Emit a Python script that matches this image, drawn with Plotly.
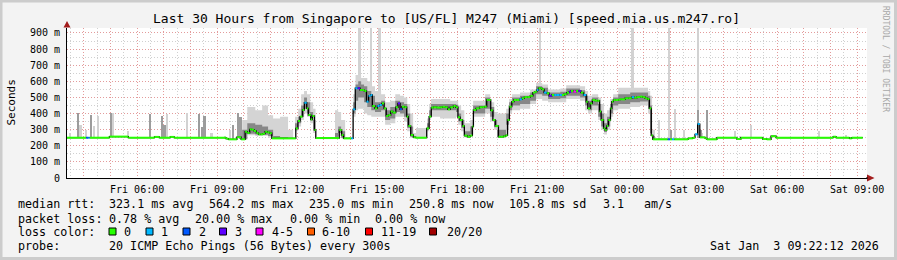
import pandas as pd
import plotly.graph_objects as go

# ---------------- data (hours since Fri 2026-01-02 00:00, values in ms) ----------------
median_h = [
    3.37, 4.09, 4.17, 4.22, 4.96, 5.67, 6.65, 6.83, 7.24, 7.39,
    9.33, 9.42, 9.74, 9.90, 10.05, 10.13, 10.22, 10.30, 10.38, 10.47,
    10.55, 10.63, 10.72, 10.80, 10.88, 10.97, 11.05, 11.95, 12.03, 12.11,
    12.20, 12.27, 12.36, 12.42, 12.51, 12.57, 12.65, 12.70, 13.58, 13.67,
    13.74, 14.03, 14.10, 14.18, 14.27, 14.36, 14.44, 14.52, 14.60, 14.68,
    14.76, 14.82, 14.92, 15.01, 15.09, 15.18, 15.26, 15.34, 15.42, 15.51,
    15.59, 15.70, 15.78, 15.86, 15.93, 16.02, 16.11, 16.17, 16.26, 16.36,
    16.45, 16.86, 16.95, 17.03, 17.11, 17.24, 17.36, 17.45, 17.55, 17.65,
    17.74, 17.86, 17.95, 18.03, 18.11, 18.20, 18.27, 18.39, 18.49, 18.57,
    18.61, 18.71, 18.84, 18.94, 19.02, 19.11, 19.19, 19.26, 19.34, 19.43,
    19.55, 19.64, 19.74, 19.82, 19.89, 19.96, 20.05, 20.13, 20.24, 20.34,
    20.43, 20.52, 20.64, 20.74, 20.84, 20.92, 20.99, 21.05, 21.13, 21.18,
    21.26, 21.36, 21.45, 21.55, 21.64, 21.74, 21.84, 21.93, 22.01, 22.11,
    22.20, 22.27, 22.36, 22.46, 22.55, 22.64, 22.74, 22.84, 22.90, 22.99,
    23.07, 23.17, 23.27, 23.34, 23.40, 23.49, 23.55, 23.61, 23.67, 23.75,
    23.80, 23.86, 23.95, 24.04, 24.11, 24.18, 24.30, 24.42, 24.55, 24.64,
    24.74, 24.86, 24.96, 25.05, 25.14, 25.21, 25.28, 25.34, 25.90, 25.98,
    26.06, 26.14, 26.66, 26.84, 26.92, 27.02, 27.10, 27.30, 27.37, 27.74,
    28.49, 28.64, 29.46, 29.61, 29.77, 29.96, 32.10, 32.21, 32.71, 32.80,
]
median_ms = [
    250, 250, 250, 250, 257, 250, 255, 250, 255, 250,
    245, 240, 253, 240, 287, 280, 302, 300, 292, 280,
    271, 271, 275, 287, 283, 278, 246, 308, 354, 381,
    422, 467, 432, 391, 364, 385, 298, 248, 298, 267,
    246, 246, 426, 557, 557, 546, 546, 540, 474, 510,
    515, 447, 432, 447, 453, 463, 432, 385, 391, 413,
    406, 439, 463, 426, 443, 439, 381, 323, 267, 252,
    250, 308, 381, 437, 439, 437, 439, 442, 439, 426,
    439, 447, 439, 377, 360, 323, 263, 256, 263, 319,
    422, 432, 439, 440, 443, 484, 484, 420, 360, 323,
    256, 256, 259, 264, 360, 443, 474, 484, 484, 488,
    495, 502, 502, 510, 530, 536, 546, 557, 557, 550,
    530, 526, 510, 515, 515, 515, 515, 515, 520, 530,
    536, 540, 536, 540, 540, 530, 515, 474, 432, 463,
    484, 480, 480, 413, 360, 308, 298, 323, 360, 432,
    474, 484, 484, 486, 488, 488, 495, 495, 502, 498,
    502, 505, 502, 495, 490, 432, 264, 240, 240, 240,
    240, 240, 246, 250, 271, 335, 252, 246, 240, 250,
    242, 250, 242, 240, 259, 250, 256, 250, 246, 250,
]
median_loss = [
    0, 2, 1, 0, 0, 0, 0, 0, 0, 0,
    0, 0, 0, 0, 0, 0, 0, 0, 0, 0,
    0, 0, 0, 0, 0, 0, 0, 0, 0, 0,
    0, 1, 0, 0, 0, 0, 0, 0, 0, 0,
    0, 1, 1, 1, 3, 0, 0, 0, 1, 1,
    1, 0, 0, 1, 1, 0, 0, 0, 0, 0,
    0, 0, 3, 2, 0, 0, 0, 0, 0, 0,
    0, 0, 0, 0, 0, 0, 0, 0, 0, 0,
    0, 0, 0, 0, 0, 0, 0, 0, 0, 0,
    0, 0, 0, 0, 0, 0, 0, 0, 0, 0,
    0, 0, 0, 0, 0, 0, 0, 0, 0, 1,
    0, 0, 0, 0, 0, 0, 1, 0, 0, 0,
    1, 0, 3, 0, 1, 1, 1, 0, 0, 0,
    3, 0, 4, 0, 3, 0, 1, 0, 0, 0,
    0, 0, 0, 0, 0, 0, 0, 0, 0, 0,
    0, 0, 0, 0, 0, 0, 0, 0, 1, 0,
    0, 0, 0, 0, 0, 0, 0, 0, 2, 0,
    1, 0, 0, 0, 1, 1, 0, 0, 0, 0,
    0, 0, 0, 0, 0, 0, 0, 0, 0, 0,
]
median_end_h = 33.21

smoke_h = [
    3.37, 9.94, 10.13, 10.43, 10.69, 10.91, 11.10, 11.36, 11.66, 11.85,
    11.92, 12.04, 12.15, 12.26, 12.37, 12.49, 12.60, 12.69, 13.42, 13.54,
    13.65, 13.80, 14.10, 14.19, 14.29, 14.40, 14.51, 14.63, 14.78, 14.92,
    15.15, 15.30, 15.49, 15.68, 15.86, 16.01, 16.13, 16.24, 16.35, 16.46,
    16.87, 16.95, 17.02, 17.36, 17.74, 17.96, 18.04, 18.15, 18.27, 18.49,
    18.60, 19.05, 19.24, 19.39, 19.50, 19.84, 19.95, 20.06, 20.36, 20.74,
    20.96, 21.19, 21.41, 21.87, 22.09, 22.61, 22.80, 22.91, 23.06, 23.29,
    23.40, 23.51, 23.62, 23.74, 23.85, 24.04, 24.49, 24.86, 25.16, 25.24,
    25.31, 25.42,
]
smoke_min = [
    250, 240, 265, 260, 262, 250, 245, 245, 245, 246,
    290, 320, 360, 400, 380, 340, 280, 248, 248, 260,
    246, 246, 380, 420, 430, 430, 400, 390, 380, 380,
    380, 330, 340, 380, 380, 350, 290, 250, 250, 250,
    290, 360, 380, 370, 370, 380, 330, 290, 252, 260,
    380, 400, 350, 300, 250, 300, 400, 420, 430, 460,
    490, 480, 470, 470, 490, 480, 420, 400, 420, 360,
    300, 270, 300, 380, 420, 430, 440, 450, 400, 260,
    240, 240,
]
smoke_lo = [
    250, 240, 275, 270, 268, 260, 246, 246, 246, 246,
    300, 340, 380, 430, 400, 355, 295, 248, 248, 280,
    250, 246, 400, 480, 500, 500, 470, 440, 420, 410,
    420, 360, 370, 410, 400, 380, 310, 256, 250, 250,
    300, 380, 420, 420, 420, 410, 350, 310, 256, 270,
    400, 430, 380, 315, 254, 330, 420, 450, 460, 480,
    520, 510, 490, 495, 510, 500, 450, 420, 450, 380,
    320, 285, 320, 400, 450, 460, 470, 475, 430, 280,
    240, 240,
]
smoke_hi = [
    250, 300, 340, 330, 320, 300, 260, 255, 250, 246,
    340, 380, 450, 500, 470, 410, 360, 248, 280, 320,
    290, 246, 470, 580, 600, 580, 570, 540, 510, 470,
    480, 420, 440, 480, 470, 460, 400, 320, 260, 255,
    340, 420, 460, 460, 460, 455, 400, 360, 290, 320,
    450, 500, 440, 360, 300, 400, 470, 500, 510, 530,
    570, 560, 530, 535, 555, 545, 510, 480, 500, 460,
    400, 340, 380, 460, 500, 520, 530, 530, 510, 450,
    260, 240,
]
smoke_max = [
    250, 360, 440, 420, 450, 390, 370, 380, 300, 246,
    380, 430, 520, 540, 520, 470, 430, 248, 420, 410,
    360, 246, 520, 640, 640, 620, 620, 600, 570, 540,
    520, 470, 480, 520, 510, 500, 460, 400, 280, 310,
    370, 460, 490, 490, 480, 480, 450, 420, 340, 360,
    480, 520, 470, 410, 400, 430, 490, 520, 530, 550,
    590, 580, 550, 555, 575, 570, 540, 510, 520, 500,
    460, 400, 420, 490, 520, 560, 560, 560, 540, 510,
    300, 240,
]

light_spike_h = [3.49, 3.88, 4.07, 4.37, 4.54, 5.10, 5.66, 7.12, 7.87, 8.79,
                 9.30, 9.49, 14.34, 14.77, 15.09, 21.11, 24.58, 25.58, 25.95, 26.17,
                 26.51, 27.02, 27.19, 28.43, 28.61, 29.03, 31.58, 32.59]
light_spike_lo = [250, 250, 250, 250, 250, 257, 250, 250, 250, 250,
                  245, 240, 500, 500, 450, 540, 500, 240, 240, 240,
                  240, 335, 250, 250, 250, 250, 250, 250]
light_spike_hi = [277, 330, 298, 320, 387, 401, 291, 395, 401, 277,
                  260, 300, 935, 935, 935, 935, 935, 360, 935, 428,
                  295, 935, 280, 290, 260, 330, 290, 265]

dark_spike_h = [3.79, 4.27, 5.01, 6.47, 6.94, 7.03, 8.32, 8.42, 8.53, 9.60,
                9.79, 9.88, 26.02, 27.02, 27.15, 27.37]
dark_spike_lo = [250, 250, 257, 250, 250, 250, 250, 250, 250, 245,
                 253, 240, 240, 250, 252, 240]
dark_spike_hi = [401, 392, 401, 395, 387, 330, 395, 318, 387, 330,
                 401, 380, 300, 422, 300, 422]

y_tick_vals = [0, 100, 200, 300, 400, 500, 600, 700, 800, 900]
y_tick_text = ["0", "100 m", "200 m", "300 m", "400 m", "500 m", "600 m", "700 m", "800 m", "900 m"]
x_label_hours = [6, 9, 12, 15, 18, 21, 24, 27, 30, 33]
x_label_text = ["Fri 06:00", "Fri 09:00", "Fri 12:00", "Fri 15:00", "Fri 18:00",
                "Fri 21:00", "Sat 00:00", "Sat 03:00", "Sat 06:00", "Sat 09:00"]

title_text = "Last 30 Hours from Singapore to [US/FL] M247 (Miami) [speed.mia.us.m247.ro]"
rtt_items = ["median rtt:", "323.1 ms avg", "564.2 ms max", "235.0 ms min",
             "250.8 ms now", "105.8 ms sd", "3.1", "am/s"]
loss_items = ["packet loss:", "0.78 % avg", "20.00 % max", "0.00 % min", "0.00 % now"]
loss_labels = ["0", "1", "2", "3", "4-5", "6-10", "11-19", "20/20"]
loss_colors = ["#26ff00", "#00b8ff", "#0059ff", "#5e00ff", "#ff00fe", "#ff5e00", "#ff0000", "#a10000"]
probe_items = ["probe:", "20 ICMP Echo Pings (56 Bytes) every 300s"]
stamp_text = "Sat Jan\u00a0\u00a03 09:22:12 2026"
start_h, end_h = 3.37, 33.37

# ---------------- geometry ----------------
W, H = 897, 260
L, R, T, B = 67, 30, 28, 82
PW, PH = W - L - R, H - T - B
DAY0 = pd.Timestamp("2026-01-02 00:00:00")
MONO = "DejaVu Sans Mono"


def ts(h):
    return DAY0 + pd.to_timedelta(h, unit="h")


def px(x):
    return (x - L) / PW


def py(y):
    return (H - B - y) / PH


assert len(median_h) == len(median_ms) == len(median_loss)
assert len(smoke_h) == len(smoke_min) == len(smoke_lo) == len(smoke_hi) == len(smoke_max)

fig = go.Figure()

# isolated smoke spikes
for hs, lo, hi, col in [(light_spike_h, light_spike_lo, light_spike_hi, "#d2d2d2"),
                        (dark_spike_h, dark_spike_lo, dark_spike_hi, "#9c9c9c")]:
    fig.add_trace(go.Bar(
        x=[ts(h) for h in hs], y=[b - a for a, b in zip(lo, hi)], base=lo,
        width=300000, marker=dict(color=col, line=dict(width=0)), hoverinfo="skip"))

# smoke envelopes
sx = [ts(h) for h in smoke_h] + [ts(end_h)]
for lo_vals, hi_vals, col in [(smoke_min, smoke_max, "#d4d4d4"), (smoke_lo, smoke_hi, "#878787")]:
    fig.add_trace(go.Scatter(x=sx, y=lo_vals + [lo_vals[-1]], mode="lines", line=dict(width=0, shape="hv"),
                             hoverinfo="skip"))
    fig.add_trace(go.Scatter(x=sx, y=hi_vals + [hi_vals[-1]], mode="lines", line=dict(width=0, shape="hv"),
                             fill="tonexty", fillcolor=col, hoverinfo="skip"))

# median: black connector
mx = [ts(h) for h in median_h] + [ts(median_end_h)]
fig.add_trace(go.Scatter(x=mx, y=median_ms + [median_ms[-1]], mode="lines",
                         line=dict(color="#000000", width=1.3, shape="hv"), hoverinfo="skip"))

# median: coloured steps by loss
groups = {}
for i, (h, v, lo) in enumerate(zip(median_h, median_ms, median_loss)):
    h2 = median_h[i + 1] if i + 1 < len(median_h) else median_end_h
    gx, gy = groups.setdefault(lo, ([], []))
    gx += [ts(h), ts(h2), None]
    gy += [v, v, None]
for lo, (gx, gy) in groups.items():
    fig.add_trace(go.Scatter(x=gx, y=gy, mode="lines", line=dict(color=loss_colors[lo], width=2),
                             hoverinfo="skip"))

hours = list(range(4, 34))
tick_text = [x_label_text[x_label_hours.index(h)] if h in x_label_hours else "" for h in hours]

grid_red = "rgba(240,120,120,0.6)"
grid_grey = "rgba(170,170,170,0.55)"
fig.update_xaxes(
    type="date", range=[ts(start_h), ts(end_h)], tickmode="array",
    tickvals=[ts(h) for h in hours], ticktext=tick_text, ticks="", ticklabelstandoff=2,
    showgrid=True, gridcolor=grid_red, griddash="1px,2px", gridwidth=1,
    minor=dict(dtick=1800000, showgrid=True, gridcolor=grid_grey, griddash="1px,2px", gridwidth=1),
    showline=True, linecolor="#000000", linewidth=1, zeroline=False,
    tickfont=dict(family=MONO, size=10, color="#000000"), fixedrange=True)
fig.update_yaxes(
    range=[0, 931], tickmode="array", tickvals=y_tick_vals, ticktext=y_tick_text, ticks="",
    showgrid=True, gridcolor=grid_red, griddash="1px,2px", gridwidth=1,
    minor=dict(dtick=50, showgrid=True, gridcolor=grid_grey, griddash="1px,2px", gridwidth=1),
    showline=True, linecolor="#000000", linewidth=1, zeroline=False, ticklabelstandoff=4,
    tickfont=dict(family=MONO, size=10, color="#000000"), fixedrange=True)

ann = []


def text(s, x, y, size=11.7, anchor="left", color="#000000", angle=0):
    ann.append(dict(text=s, x=px(x), y=py(y), xref="paper", yref="paper", showarrow=False,
                    xanchor=anchor, yanchor="middle", textangle=angle,
                    font=dict(family=MONO, size=size, color=color)))


text(title_text, 446.5, 19, size=13, anchor="center")
text("Seconds", 10.5, 103, size=11, anchor="center", angle=-90)
text("RRDTOOL / TOBI OETIKER", 886, 59, size=8, anchor="center", color="#a8a8a8", angle=90)

for s, x in zip(rtt_items, [16, 107, 207, 307, 407, 507, 600.5, 642]):
    text(s, x, 204)
for s, x in zip(loss_items, [16, 107, 192.5, 287.5, 372.5]):
    text(s, x, 218.5)
text("loss color:", 16, 232)
shapes = []
box_x = [109, 146, 183, 219.5, 256, 307.5, 365.5, 429.5]
lab_x = [122, 159, 196.5, 233, 270, 320, 379, 445]
for s, col, bx, lx in zip(loss_labels, loss_colors, box_x, lab_x):
    shapes.append(dict(type="rect", xref="paper", yref="paper", x0=px(bx), x1=px(bx + 7),
                       y0=py(235), y1=py(228), fillcolor=col, line=dict(color="#000000", width=1)))
    text(s, lx, 232)
for s, x in zip(probe_items, [16, 107]):
    text(s, x, 246)
text(stamp_text, 880.5, 246, anchor="right")

# axis arrows
ac = "#a31d1d"
shapes.append(dict(type="path", xref="paper", yref="paper",
                   path=f"M {px(63.5)} {py(27.5)} L {px(70.5)} {py(27.5)} L {px(67)} {py(21)} Z",
                   fillcolor=ac, line=dict(width=0)))
shapes.append(dict(type="path", xref="paper", yref="paper",
                   path=f"M {px(867)} {py(174.5)} L {px(867)} {py(181.5)} L {px(874.5)} {py(178)} Z",
                   fillcolor=ac, line=dict(width=0)))
shapes.append(dict(type="line", xref="paper", yref="paper", x0=px(866), x1=px(868), y0=py(178), y1=py(178),
                   line=dict(color="#000000", width=1)))
# frame
shapes.append(dict(type="rect", xref="paper", yref="paper", x0=px(1), x1=px(W - 1.5), y0=py(H - 1.5), y1=py(1),
                   line=dict(color="#cccccc", width=3), layer="above"))

fig.update_layout(
    width=W, height=H, margin=dict(l=L, r=R, t=T, b=B, pad=0),
    paper_bgcolor="#f3f3f3", plot_bgcolor="#ffffff", showlegend=False,
    barmode="overlay", bargap=0, annotations=ann, shapes=shapes,
    font=dict(family=MONO, color="#000000"))

fig.write_html("out.html")
